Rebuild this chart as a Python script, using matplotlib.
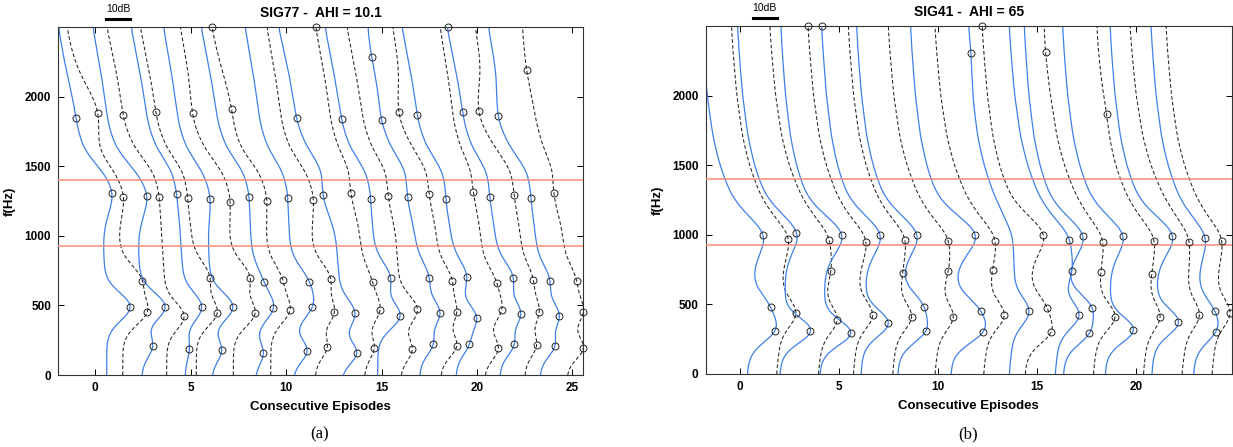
import numpy as np
import matplotlib.pyplot as plt
from matplotlib.transforms import blended_transform_factory

plt.rcParams['font.family'] = ['Liberation Sans', 'DejaVu Sans']

freq = np.arange(0, 2501, 5)

# ---- panel (a): SIG77, AHI = 10.1 ----
a_style = "BDBDBDBDBDBDBDBDBDBDBDBD"
a_bottom = [0.61, 1.45, 2.44, 3.75, 4.71, 5.3, 6.11, 7.24, 8.38, 9.2, 10.38, 11.52,
            12.9, 14.1, 14.8, 16.0, 17.0, 18.1, 18.9, 20.4, 21.2, 22.5, 23.3, 24.7]
a_top = [-1.92, -1.48, -0.12, 0.61, 1.88, 2.36, 3.58, 4.45, 5.55, 6.14, 7.85, 8.99,
         9.60, 11.57, 12.04, 13.18, 14.36, 15.58, 16.06, 18.06, 18.46, 19.90, 20.59, 22.42]
a_peak_f = [[491, 1310, 1844], [455, 677, 1281, 1880], [208, 491, 1286], [424, 1281, 1868],
            [189, 491, 1298], [448, 699, 1274, 1887], [177, 491, 1262], [443, 699, 1241, 1880],
            [156, 484, 670, 1276], [467, 682, 1250, 1908, 2500], [175, 491, 670, 1269],
            [203, 450, 690, 1257], [160, 443, 1293, 1844], [196, 467, 666, 1310, 2500],
            [426, 694, 1264, 1836], [185, 471, 1288], [223, 443, 694, 1281, 1832, 2281],
            [211, 450, 675, 1300, 1887], [220, 412, 706, 1264, 1868], [192, 467, 663, 1315],
            [220, 438, 694, 1276, 1892, 2500], [215, 455, 682, 1293, 1899],
            [211, 424, 675, 1269, 1863], [196, 455, 675, 1305, 2191]]
a_peak_x = [[1.83, 0.87, -0.99], [2.74, 2.48, 1.48, 0.14], [3.02, 3.66, 2.70], [4.66, 3.35, 1.48],
            [4.94, 5.58, 4.27], [6.40, 6.02, 4.85, 3.19], [6.63, 7.21, 6.02], [8.38, 8.12, 7.07, 5.11],
            [8.81, 9.34, 8.85, 8.06], [10.21, 9.83, 8.99, 7.15, 6.14], [11.10, 11.38, 11.22, 10.09],
            [12.16, 12.53, 12.34, 11.43], [13.70, 13.61, 11.95, 10.56], [14.62, 14.92, 14.54, 13.40, 11.57],
            [15.97, 15.48, 14.43, 12.92], [16.61, 16.88, 15.36], [17.71, 18.06, 17.50, 16.37, 15.01, 14.49],
            [18.94, 18.94, 18.71, 17.50, 15.92], [19.60, 19.98, 19.46, 18.38, 16.88], [21.12, 21.29, 21.03, 19.81],
            [21.95, 22.29, 21.90, 20.68, 19.25, 18.46], [23.12, 23.26, 22.95, 21.95, 20.10],
            [24.08, 24.31, 23.82, 22.83, 21.12], [25.57, 25.57, 25.22, 24.03, 22.60]]
a_tilt_f = [0, 300, 700, 1000, 1300, 1450, 1550, 1650, 1800, 2100, 2500]
a_tilt_s = [0, 0, 0.04, 0.08, 0.1, 0.2, 0.38, 0.55, 0.68, 0.8, 1.0]

# ---- panel (b): SIG41, AHI = 65 ----
b_style = "BDBDBDBDBDBDBDBBDBDBDBD"
b_bottom = [0.35, 1.83, 2.0, 3.94, 4.02, 5.71, 6.10, 7.70, 7.96, 9.84, 10.65, 12.3,
            13.6, 14.4, 15.92, 16.34, 17.85, 18.45, 20.38, 20.81, 22.33, 22.92, 23.85]
b_top = [-1.95, -0.45, -0.14, 1.49, 2.05, 3.43, 4.12, 5.46, 5.88, 7.48, 8.61, 9.84,
         11.48, 12.24, 13.60, 14.36, 15.41, 16.30, 18.03, 18.70, 19.71, 20.77, 21.53]
b_peak_f = [[311, 478, 995], [438, 969], [311, 1014], [390, 742, 964], [294, 1000],
            [423, 945, 2500], [363, 1000, 2500], [411, 722, 964], [306, 483, 1000],
            [411, 742, 952], [299, 455, 1000], [423, 747, 957], [449, 2309],
            [299, 471, 1000, 2500], [423, 737, 964], [292, 471, 988], [411, 730, 945, 2314],
            [316, 993], [411, 718, 952, 1866], [371, 993], [426, 945], [304, 449, 974], [438, 952]]
b_peak_x = [[1.75, 1.54, 1.15], [2.81, 2.42], [3.55, 2.84], [4.90, 4.58, 4.49], [5.58, 5.12],
            [6.69, 6.35, 3.43], [7.48, 7.06, 4.12], [8.66, 8.21, 8.32], [9.37, 9.29, 8.92],
            [10.77, 10.52, 10.52], [12.26, 12.15, 11.87], [13.35, 12.76, 12.88], [14.60, 11.66],
            [15.71, 15.53, 15.32, 12.24], [17.13, 16.76, 16.64], [17.65, 17.80, 17.32],
            [18.95, 18.24, 18.33, 15.44], [19.88, 19.34], [21.23, 20.81, 20.93, 18.53],
            [22.16, 21.85], [23.22, 22.70], [24.05, 24.01, 23.51], [24.77, 24.35]]
b_tilt_f = [0, 150, 400, 800, 1000, 1150, 1300, 1500, 1700, 2000, 2300, 2500]
b_tilt_s = [0, -0.05, -0.12, -0.12, -0.08, 0.15, 0.38, 0.6, 0.75, 0.88, 0.96, 1.0]


def smooth(y, sigma=10):
    k = np.arange(-4 * sigma, 4 * sigma + 1)
    k = np.exp(-0.5 * (k / sigma) ** 2)
    k /= k.sum()
    yp = np.concatenate([np.full(4 * sigma, y[0]), y, np.full(4 * sigma, y[-1])])
    return np.convolve(yp, k, mode='valid')


def envelope(bottom, top, pf, px, tf, ts):
    s = smooth(np.interp(freq, tf, ts))
    base = bottom + (top - bottom) * s
    pf = np.asarray(pf, float)
    px = np.asarray(px, float)
    w = 70 + 0.06 * pf
    G = np.exp(-0.5 * ((pf[:, None] - pf[None, :]) / w[None, :]) ** 2)
    h = np.linalg.solve(G, px - np.interp(pf, freq, base))
    bumps = np.exp(-0.5 * ((freq[:, None] - pf[None, :]) / w[None, :]) ** 2)
    return base + bumps @ h


def panel(ax, style, bottom, top, pk_f, pk_x, tf, ts, xlim, title, bar):
    for i in range(len(style)):
        x = envelope(bottom[i], top[i], pk_f[i], pk_x[i], tf, ts)
        if style[i] == 'B':
            ax.plot(x, freq, color='#3f80e8', lw=0.9, zorder=2)
        else:
            ax.plot(x, freq, color='#222222', lw=0.75, dashes=(3.5, 2.2), zorder=2)
        ax.plot(pk_x[i], pk_f[i], 'o', ms=5, mfc='none', mec='#222222', mew=0.7,
                zorder=4, clip_on=False)
    for f in (925, 1400):
        ax.axhline(f, color='#f98a78', lw=1.1, zorder=3)
    ax.set_xlim(*xlim)
    ax.set_ylim(0, 2500)
    ax.set_xticks(np.arange(0, xlim[1], 5))
    ax.set_yticks([0, 500, 1000, 1500, 2000])
    ax.tick_params(direction='in', top=True, right=True, length=4, width=0.7,
                   labelsize=8.5, pad=5)
    for lab in ax.get_xticklabels() + ax.get_yticklabels():
        lab.set_fontweight('bold')
    for sp in ax.spines.values():
        sp.set_linewidth(0.8)
        sp.set_color('#333333')
    ax.set_xlabel('Consecutive Episodes', fontsize=9.5, fontweight='bold', labelpad=5)
    ax.set_ylabel('f(Hz)', fontsize=9.5, fontweight='bold', labelpad=6)
    ax.set_title(title, fontsize=10, fontweight='bold', pad=7)
    tr = blended_transform_factory(ax.transData, ax.transAxes)
    ax.plot(bar, [1.023, 1.023], color='black', lw=2.2, transform=tr, clip_on=False)
    ax.text(np.mean(bar), 1.036, '10dB', transform=tr, ha='center', va='bottom', fontsize=7.5)


fig = plt.figure(figsize=(12.33, 4.47), dpi=100)
ax1 = fig.add_axes([58 / 1233, 72 / 447, 525 / 1233, 348 / 447])
ax2 = fig.add_axes([705.5 / 1233, 73 / 447, 526.5 / 1233, 348 / 447])

panel(ax1, a_style, a_bottom, a_top, a_peak_f, a_peak_x, a_tilt_f, a_tilt_s,
      (-1.94, 25.55), 'SIG77 -  AHI = 10.1', [0.58, 1.83])
panel(ax2, b_style, b_bottom, b_top, b_peak_f, b_peak_x, b_tilt_f, b_tilt_s,
      (-1.76, 24.87), 'SIG41 -  AHI = 65', [0.62, 1.86])

fig.text(320 / 1233, 1 - 434 / 447, '(a)', family='Liberation Serif', fontsize=12,
         ha='center', va='center')
fig.text(968 / 1233, 1 - 434 / 447, '(b)', family='Liberation Serif', fontsize=12,
         ha='center', va='center')

fig.savefig('out.png', dpi=100)
